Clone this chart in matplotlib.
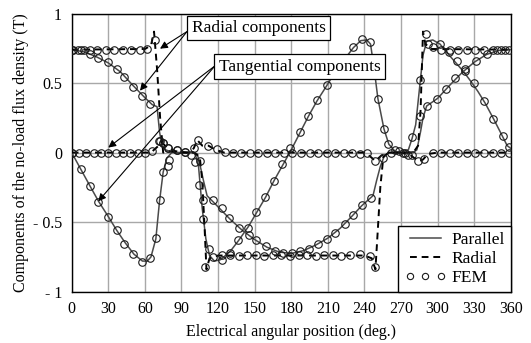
import matplotlib
matplotlib.use("Agg")
import matplotlib.pyplot as plt
from matplotlib.lines import Line2D

plt.rcParams['font.family'] = ['Liberation Serif', 'DejaVu Serif']

# Parallel magnetisation, analytical (solid)
par_rad_x = [0, 10, 20, 30, 40, 50, 60, 66, 70, 72, 74, 77, 80, 85, 90, 95, 100, 103, 106, 108, 111,
             120, 130, 140, 150, 160, 170, 180, 190, 200, 210, 220, 230, 238, 247, 250, 253, 256,
             260, 270, 280, 283, 286, 288, 291, 300, 310, 320, 330, 340, 350, 360]
par_rad_y = [0.74, 0.725, 0.69, 0.645, 0.58, 0.485, 0.395, 0.345, 0.33, 0.15, 0.05, 0.02, 0.01, 0.0,
             0.0, 0.0, 0.0, -0.01, -0.12, -0.2, -0.31, -0.39, -0.48, -0.56, -0.625, -0.68, -0.715,
             -0.725, -0.705, -0.665, -0.615, -0.545, -0.455, -0.38, -0.31, -0.2, -0.1, -0.03, 0.0,
             0.0, 0.0, 0.02, 0.15, 0.25, 0.335, 0.39, 0.485, 0.575, 0.65, 0.705, 0.735, 0.74]

par_tan_x = [0, 7.5, 15, 22, 30, 37, 44, 51, 58, 62, 65, 69, 72, 75, 78, 82, 90, 98, 101, 104, 107,
             110, 113, 117, 122, 130, 137, 145, 152, 159, 166, 173, 180, 187, 194, 201, 209, 216,
             224, 231, 237, 242, 245, 248, 251, 256, 260, 265, 270, 276, 279, 282, 285, 288, 291,
             296, 302, 308, 314, 321, 327, 333, 339, 346, 353, 357, 360]
par_tan_y = [0.0, -0.12, -0.24, -0.35, -0.46, -0.56, -0.65, -0.73, -0.78, -0.78, -0.75, -0.62, -0.35,
             -0.14, -0.04, 0.0, 0.0, 0.0, 0.0, -0.1, -0.4, -0.62, -0.74, -0.78, -0.77, -0.71, -0.63,
             -0.53, -0.425, -0.32, -0.2, -0.09, 0.02, 0.14, 0.26, 0.37, 0.48, 0.58, 0.675, 0.755,
             0.805, 0.81, 0.78, 0.6, 0.39, 0.17, 0.06, 0.01, 0.0, 0.02, 0.1, 0.2, 0.45, 0.7, 0.8,
             0.81, 0.78, 0.715, 0.655, 0.585, 0.515, 0.44, 0.355, 0.24, 0.12, 0.05, 0.03]

# Radial magnetisation, analytical (dashed)
rad_rad_x = [0, 60, 65, 67.5, 70, 72.5, 75, 80, 90, 100, 105, 107, 109, 110.5, 113, 120, 180, 240,
             246, 249, 251, 253, 255.5, 260, 270, 280, 284, 286, 288, 290, 295, 360]
rad_rad_y = [0.74, 0.745, 0.77, 0.87, 0.6, 0.25, 0.0, 0.01, 0.0, 0.0, -0.03, -0.2, -0.55, -0.84,
             -0.76, -0.74, -0.74, -0.74, -0.76, -0.84, -0.55, -0.25, -0.03, 0.0, 0.0, 0.0, 0.05,
             0.3, 0.87, 0.78, 0.745, 0.74]

rad_tan_x = [0, 65, 70, 74, 78, 85, 95, 100, 103, 107, 112, 118, 125, 240, 245, 249, 254, 260, 270,
             278, 284, 288, 292, 300, 360]
rad_tan_y = [0.0, 0.0, 0.04, 0.07, 0.04, 0.01, 0.0, 0.03, 0.09, 0.05, 0.05, 0.02, 0.0, 0.0, -0.03,
             -0.06, -0.02, 0.0, 0.0, -0.02, -0.06, -0.05, -0.01, 0.0, 0.0]

# FEM results (circles)
fem_par_rad_x = [1, 7.5, 15, 21.5, 30, 37, 43, 50.5, 58, 64, 72, 79, 86, 93, 98, 101, 105, 108,
                 115.5, 123, 129, 137, 145, 151, 159, 167, 173.5, 180.5, 187.5, 194.5, 202, 209, 216,
                 224, 231, 238, 245, 255.5, 262, 268, 273, 279, 285.5, 291, 299.5, 307, 314.5,
                 322.5, 331.5, 340.5, 348.5, 355]
fem_par_rad_y = [0.74, 0.735, 0.71, 0.68, 0.65, 0.6, 0.54, 0.475, 0.405, 0.35, 0.08, 0.035, 0.017,
                 0.007, -0.017, -0.065, -0.06, -0.34, -0.34, -0.4, -0.47, -0.54, -0.59, -0.63,
                 -0.675, -0.71, -0.72, -0.72, -0.71, -0.69, -0.66, -0.62, -0.58, -0.51, -0.45, -0.38,
                 -0.325, -0.036, 0.0, 0.01, 0.0, -0.02, 0.265, 0.337, 0.385, 0.458, 0.535, 0.6,
                 0.655, 0.71, 0.735, 0.74]

fem_par_tan_x = [0.5, 7.6, 15, 21.3, 29.5, 36.9, 43.1, 50.5, 57.9, 64.2, 69.1, 72.2, 75.1, 79.8, 86,
                 93, 100.5, 104.6, 107.9, 112.6, 123, 129.8, 136.6, 144.8, 151.1, 158.5, 165.9,
                 172.7, 179, 187.2, 194, 201.4, 209, 216.7, 224, 230.9, 237.8, 244.6, 251.4, 256,
                 259.6, 265, 272, 278.8, 285.6, 292.4, 302, 309, 315.7, 322.5, 330, 338, 345.7,
                 353.4, 358.5]
fem_par_tan_y = [0.0, -0.12, -0.24, -0.354, -0.46, -0.56, -0.66, -0.73, -0.79, -0.755, -0.615,
                 -0.34, -0.137, -0.056, 0.017, 0.007, 0.036, -0.23, -0.48, -0.69, -0.77, -0.72,
                 -0.63, -0.54, -0.43, -0.32, -0.205, -0.085, 0.036, 0.145, 0.265, 0.378, 0.486,
                 0.59, 0.675, 0.76, 0.815, 0.795, 0.385, 0.17, 0.06, 0.02, 0.0, 0.11, 0.52, 0.78,
                 0.78, 0.72, 0.66, 0.59, 0.5, 0.37, 0.24, 0.12, 0.04]

fem_rad_rad_x = [0.5, 5, 10, 15, 21, 28, 35, 42, 49, 56, 62, 68.3, 75.1, 79.2, 109.3, 115.6, 123,
                 130, 137, 144, 151, 158, 165, 172, 179, 186, 193, 200, 207, 214, 221, 228, 236.4,
                 244.6, 248.7, 290.5, 296, 303, 310, 317, 324, 331, 338, 345, 352, 358.5]
fem_rad_rad_y = [0.74, 0.74, 0.735, 0.74, 0.735, 0.74, 0.735, 0.74, 0.735, 0.74, 0.745, 0.81, 0.07,
                 -0.097, -0.82, -0.75, -0.735, -0.735, -0.74, -0.735, -0.735, -0.74, -0.735, -0.735,
                 -0.74, -0.735, -0.735, -0.74, -0.735, -0.735, -0.74, -0.735, -0.728, -0.747,
                 -0.82, 0.855, 0.76, 0.74, 0.735, 0.74, 0.735, 0.74, 0.735, 0.74, 0.74, 0.74]

fem_rad_tan_x = [0.5, 6, 12, 18, 24, 30, 36, 42, 48, 54, 60, 66, 71.6, 75.1, 79.2, 103.8, 112,
                 118.9, 125.7, 132, 139, 146, 153, 160, 167, 174, 181, 188, 195, 202, 209, 216, 223,
                 230, 236, 241.9, 248.7, 276, 284, 288.5, 296, 303, 310, 317, 324, 331, 338, 345,
                 352, 358.5]
fem_rad_tan_y = [0.0, 0.0, 0.0, 0.0, 0.0, 0.0, 0.0, 0.0, 0.0, 0.0, 0.0, 0.01, 0.08, 0.07, 0.035,
                 0.09, 0.05, 0.024, 0.004, 0.0, 0.0, 0.0, 0.0, 0.0, 0.0, 0.0, 0.0, 0.0, 0.0, 0.0,
                 0.0, 0.0, 0.0, 0.0, -0.01, 0.0, -0.06, -0.02, -0.06, -0.045, 0.0, 0.0, 0.0, 0.0,
                 0.0, 0.0, 0.0, 0.0, 0.0, 0.0]

x_ticks = [0, 30, 60, 90, 120, 150, 180, 210, 240, 270, 300, 330, 360]
y_ticks = [-1, -0.5, 0, 0.5, 1]
y_tick_labels = ['- 1', '- 0.5', '0', '0.5', '1']

fig = plt.figure(figsize=(5.31, 3.43), dpi=100)
ax = fig.add_axes([0.135, 0.1496, 0.827, 0.811])

solid_c = '#4a4a4a'
ax.plot(par_rad_x, par_rad_y, color=solid_c, lw=1.1, zorder=3)
ax.plot(par_tan_x, par_tan_y, color=solid_c, lw=1.1, zorder=3)
ax.plot(rad_rad_x, rad_rad_y, color='black', lw=1.4, ls=(0, (3.5, 2.5)), zorder=3)
ax.plot(rad_tan_x, rad_tan_y, color='black', lw=1.4, ls=(0, (3.5, 2.5)), zorder=3)

fem_style = dict(ls='none', marker='o', ms=5.4, mfc='none', mec='#1a1a1a', mew=0.8, zorder=4)
for fx, fy in [(fem_par_rad_x, fem_par_rad_y), (fem_par_tan_x, fem_par_tan_y),
               (fem_rad_rad_x, fem_rad_rad_y), (fem_rad_tan_x, fem_rad_tan_y)]:
    ax.plot(fx, fy, **fem_style)

ax.set_xlim(0, 360)
ax.set_ylim(-1, 1)
ax.set_xticks(x_ticks)
ax.set_yticks(y_ticks)
ax.set_yticklabels(y_tick_labels)
ax.tick_params(length=0, labelsize=11.5, pad=7)
ax.grid(True, color='#a8a8a8', lw=1.0)
ax.set_axisbelow(True)
for s in ax.spines.values():
    s.set_color('black')
    s.set_linewidth(1.0)

ax.set_xlabel('Electrical angular position (deg.)', fontsize=11.5, labelpad=5)
ax.set_ylabel('Components of the no-load flux density (T)', fontsize=11.5, labelpad=3)

box = dict(boxstyle='square,pad=0.25', fc='white', ec='black', lw=0.9)
arrow = dict(arrowstyle='-|>', color='black', lw=0.8, mutation_scale=11, shrinkA=0, shrinkB=0)
for tgt in [(72.4, 0.747), (56, 0.445)]:
    ax.annotate('', xy=tgt, xytext=(94.5, 0.87), arrowprops=arrow, zorder=5)
for tgt in [(30, 0.036), (21.8, -0.35)]:
    ax.annotate('', xy=tgt, xytext=(117.5, 0.624), arrowprops=arrow, zorder=5)
ax.text(153.2, 0.895, 'Radial components', ha='center', va='center', fontsize=12.5,
        bbox=box, zorder=6)
ax.text(186.8, 0.617, 'Tangential components', ha='center', va='center', fontsize=12.5,
        bbox=box, zorder=6)

handles = [Line2D([], [], color=solid_c, lw=1.1),
           Line2D([], [], color='black', lw=1.4, ls=(0, (3.5, 2.5))),
           Line2D([], [], ls='none', marker='o', ms=4.5, mfc='none', mec='#1a1a1a', mew=0.8)]
leg = ax.legend(handles, ['Parallel', 'Radial', 'FEM'], loc='lower right', bbox_to_anchor=(1, 0),
                borderaxespad=0, fancybox=False, edgecolor='black', framealpha=1, fontsize=12.5,
                handlelength=2.4, handletextpad=0.3, labelspacing=0.15, borderpad=0.35,
                numpoints=3)
leg.get_frame().set_linewidth(1.0)
leg.set_zorder(7)

fig.savefig('out.png', dpi=100)
